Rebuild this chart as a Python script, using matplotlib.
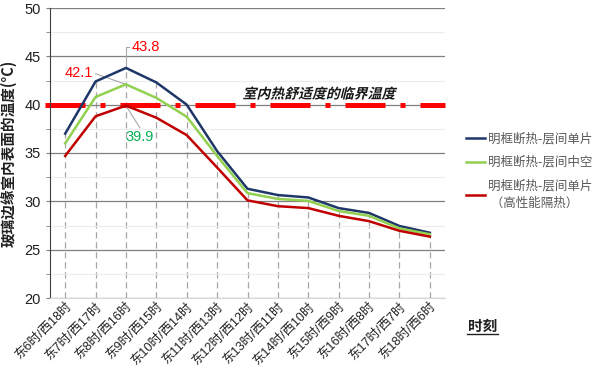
import matplotlib
matplotlib.use("Agg")
import matplotlib.pyplot as plt
import numpy as np
from matplotlib.textpath import TextPath
from matplotlib.patches import PathPatch
from matplotlib.font_manager import FontProperties
from matplotlib.transforms import Affine2D, ScaledTranslation

plt.rcParams['font.family'] = ['Liberation Sans', 'Noto Sans CJK SC', 'DejaVu Sans']

categories = ["东6时/西18时", "东7时/西17时", "东8时/西16时", "东9时/西15时", "东10时/西14时",
              "东11时/西13时", "东12时/西12时", "东13时/西11时", "东14时/西10时", "东15时/西9时",
              "东16时/西8时", "东17时/西7时", "东18时/西6时"]
series_single = [37.0, 42.4, 43.8, 42.3, 40.0, 35.2, 31.3, 30.65, 30.4, 29.3, 28.8, 27.45, 26.75]
series_hollow = [36.0, 40.8, 42.1, 40.7, 38.75, 34.7, 30.85, 30.25, 30.05, 29.0, 28.5, 27.2, 26.6]
series_hiperf = [34.7, 38.8, 39.9, 38.65, 36.85, 33.5, 30.1, 29.5, 29.3, 28.5, 27.95, 26.95, 26.35]
names = ["明框断热-层间单片", "明框断热-层间中空", "明框断热-层间单片\n （高性能隔热）"]
colors = ["#1f3768", "#92d050", "#c00000"]
critical_temp = 40
critical_label = "室内热舒适度的临界温度"

DPI = 100
fig = plt.figure(figsize=(6, 3.87), dpi=DPI)
ax = fig.add_axes([50/600, 1-298/387, 395/600, 290/387])
x = np.arange(len(categories))

ax.set_xlim(-0.5, len(categories)-0.5)
ax.set_ylim(20, 50)
ax.set_yticks([20, 25, 30, 35, 40, 45, 50])
ax.set_yticks(np.arange(22.5, 50, 5), minor=True)
ax.grid(axis='y', which='major', color='#7f7f7f', lw=0.9, zorder=0)
ax.grid(axis='y', which='minor', color='#ececec', lw=0.8, zorder=0)
for s in ['top', 'right']:
    ax.spines[s].set_visible(False)
ax.spines['left'].set_color('#404040')
ax.spines['bottom'].set_color('#d9d9d9')
ax.tick_params(axis='y', which='both', length=3, color='#808080', labelsize=10.5, labelcolor='#202020')
ax.tick_params(axis='x', length=0, labelsize=9, labelcolor='#202020', pad=2)
ax.set_xticks(x)
ax.set_xticklabels(categories, rotation=45, ha='right', rotation_mode='anchor')

# drop lines
tops = np.max([series_single, series_hollow, series_hiperf], axis=0)
ax.vlines(x, 20, tops, colors='#a6a6a6', linestyles=(0, (5, 3)), lw=0.9, zorder=1)

# critical temperature line
ax.plot([-0.5 - 5/30.4, len(categories)-0.5], [critical_temp]*2, color='#ff0000', lw=3.6,
        dashes=(8, 3, 1, 3), solid_capstyle='butt', dash_capstyle='butt', clip_on=False, zorder=2)

for vals, c, n in zip([series_single, series_hollow, series_hiperf], colors, names):
    ax.plot(x, vals, color=c, lw=1.8, label=n, zorder=3)

# italic (sheared) label for the critical line
fp = FontProperties(family='Noto Sans CJK SC', weight='bold')
tp = TextPath((0, 0), critical_label, size=10, prop=fp)
bb = tp.get_extents()
tr = (Affine2D().translate(-(bb.x0 + bb.x1) / 2, -(bb.y0 + bb.y1) / 2)
      .skew_deg(14, 0).scale(DPI / 72)
      + ScaledTranslation(8.4, 41.2, ax.transData))
ax.add_patch(PathPatch(tp, transform=tr, facecolor='#1a1a1a', edgecolor='none', zorder=4))

# data labels with leader lines
ax.plot([2.0, 2.0, 2.1], [series_single[2], 46.0, 46.0], color='#a6a6a6', lw=0.8, zorder=2)
ax.text(2.2, 46.0, f"{series_single[2]}", color='#ff0000', fontsize=10.5, va='center', ha='left')
ax.plot([1.0, 2.0], [43.2, series_hollow[2]], color='#a6a6a6', lw=0.8, zorder=2)
ax.text(0.9, 43.3, f"{series_hollow[2]}", color='#ff0000', fontsize=10.5, va='center', ha='right')
ax.plot([2.0, 2.46], [series_hiperf[2], 37.6], color='#a6a6a6', lw=0.8, zorder=2)
ax.text(2.45, 36.7, f"{series_hiperf[2]}", color='#00b050', fontsize=10.5, va='center', ha='center')

ax.set_ylabel("玻璃边缘室内表面的温度(°C)", fontsize=10.5, fontweight='bold', color='#202020',
              family=['Noto Sans CJK SC', 'DejaVu Sans'], labelpad=6)

leg = fig.legend(loc='upper left', bbox_to_anchor=(455/600, 1-121/387), frameon=False,
                 prop={'family': ['Noto Sans CJK SC', 'DejaVu Sans'], 'size': 9},
                 handlelength=1.5, handletextpad=0.25, labelspacing=0.85)
for t in leg.get_texts():
    t.set_color('#595959')
    t.set_linespacing(1.45)

fig.text(468/600, 1-326/387, "时刻", fontsize=10.5, fontweight='bold', color='#202020',
         ha='left', va='center', family=['Noto Sans CJK SC', 'DejaVu Sans'])
fig.add_artist(plt.Line2D([467/600, 498/600], [1-334/387, 1-334/387], color='#202020', lw=1.0))

fig.savefig("out.png", dpi=DPI)
